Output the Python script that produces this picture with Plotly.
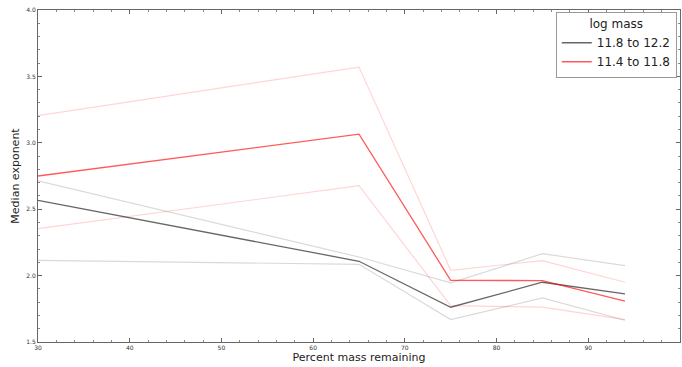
import plotly.graph_objects as go

pct_remaining = [30, 65, 75, 85, 94]

# log mass 11.8 to 12.2 (black)
hi_median = [2.566, 2.108, 1.762, 1.950, 1.862]
hi_upper = [2.714, 2.140, 1.945, 2.165, 2.075]
hi_lower = [2.115, 2.085, 1.669, 1.832, 1.664]

# log mass 11.4 to 11.8 (red)
lo_median = [2.750, 3.065, 1.965, 1.962, 1.807]
lo_upper = [3.205, 3.570, 2.040, 2.113, 1.950]
lo_lower = [2.353, 2.677, 1.774, 1.762, 1.669]

legend_labels = ["11.8 to 12.2", "11.4 to 11.8"]

fig = go.Figure()

def band(y, color):
    fig.add_trace(go.Scatter(x=pct_remaining, y=y, mode="lines",
                             line=dict(color=color, width=1.2),
                             showlegend=False, hoverinfo="skip"))

band(hi_upper, "rgba(0,0,0,0.15)")
band(hi_lower, "rgba(0,0,0,0.15)")
band(lo_upper, "rgba(255,0,0,0.17)")
band(lo_lower, "rgba(255,0,0,0.17)")

fig.add_trace(go.Scatter(x=pct_remaining, y=hi_median, mode="lines",
                         line=dict(color="rgba(0,0,0,0.6)", width=1.3),
                         name=legend_labels[0]))
fig.add_trace(go.Scatter(x=pct_remaining, y=lo_median, mode="lines",
                         line=dict(color="rgba(255,0,0,0.65)", width=1.3),
                         name=legend_labels[1]))

axis_common = dict(
    showgrid=False, zeroline=False, showline=True, linecolor="#666",
    linewidth=1, mirror="ticks", ticks="inside", ticklen=4, tickcolor="#666",
    tickfont=dict(size=6, color="#333", family="DejaVu Sans"),
    automargin=False,
)

fig.update_xaxes(range=[30, 100.001], dtick=10, tick0=30,
                 minor=dict(ticks="inside", ticklen=2, dtick=2, tickcolor="#888"),
                 title=dict(text="Percent mass remaining",
                            font=dict(size=11, color="#222", family="DejaVu Sans"),
                            standoff=1),
                 **axis_common)
fig.update_yaxes(range=[1.5, 4.0], dtick=0.5, tick0=1.5, tickformat=".1f",
                 minor=dict(ticks="inside", ticklen=2, dtick=0.1, tickcolor="#888"),
                 title=dict(text="Median exponent",
                            font=dict(size=11, color="#222", family="DejaVu Sans"),
                            standoff=4),
                 **axis_common)

fig.update_layout(
    width=682, height=367,
    margin=dict(l=38, r=2, t=10, b=25, autoexpand=False),
    paper_bgcolor="white", plot_bgcolor="white",
    font=dict(family="DejaVu Sans", color="#222"),
    legend=dict(
        title=dict(text="log mass", side="top center", font=dict(size=12)),
        x=0.8065, y=0.995, xanchor="left", yanchor="top",
        bordercolor="#999", borderwidth=1, bgcolor="white",
        font=dict(size=12), itemwidth=30, tracegroupgap=0,
    ),
)

fig.write_html("out.html", config={"displayModeBar": False},
               post_script="document.body.style.margin='0';document.body.style.overflow='hidden';")
